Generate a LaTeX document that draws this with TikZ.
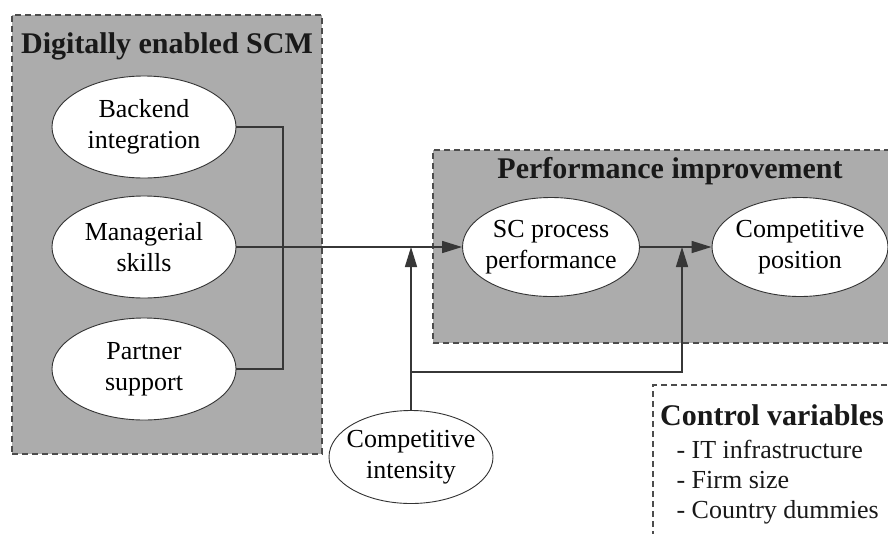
\documentclass[tikz,border=0pt]{standalone}
\usepackage{fontspec}
\setmainfont{Liberation Serif}
\usetikzlibrary{shapes.geometric,arrows.meta}
\definecolor{boxgray}{RGB}{172,172,172}
\definecolor{linec}{RGB}{55,55,55}
\begin{document}
\begin{tikzpicture}[x=1pt,y=-1pt,
  ell/.style={ellipse, draw=black!80, line width=0.9pt, fill=white, inner xsep=-10pt, inner ysep=-10pt, align=center, font=\fontsize{26}{31}\selectfont},
  grp/.style={draw=black!70, dash pattern=on 6pt off 4pt, line width=1.2pt, fill=boxgray, inner sep=0pt},
  ctrl/.style={draw=black!70, dash pattern=on 6pt off 4pt, line width=1.2pt, inner sep=0pt},
  conn/.style={draw=linec, line width=1.5pt},
  arr/.style={conn, -{Triangle[length=20pt,width=12pt]}},
  ttl/.style={font=\fontsize{30}{36}\selectfont\bfseries, anchor=base, text=black!90},
  body/.style={font=\fontsize{26}{31}\selectfont, anchor=base west, text=black!90}]
\clip (0,0) rectangle (888,533);
\fill[white] (0,0) rectangle (888,533);
% group boxes
\node[grp, minimum width=310pt, minimum height=439pt] (g1) at (167,234.5) {};
\node[grp, minimum width=472pt, minimum height=193pt] (g2) at (669,246.5) {};
\node[ctrl, minimum width=252pt, minimum height=160pt] (g3) at (779,465) {};
% titles
\node[ttl] (t1) at (167,53) {Digitally enabled SCM};
\node[ttl] (t2) at (670,178) {Performance improvement};
\node[ttl, anchor=base west, inner xsep=2pt] (t3) at (658,425) {Control variables};
\node[body] (c1) at (673,458) {- IT infrastructure};
\node[body] (c2) at (673,488) {- Firm size};
\node[body] (c3) at (673,518) {- Country dummies};
% ellipses
\node[ell, minimum width=184pt, minimum height=102pt] (be) at (144,127) {Backend\\integration};
\node[ell, minimum width=184pt, minimum height=102pt] (ms) at (144,247) {Managerial\\skills};
\node[ell, minimum width=184pt, minimum height=102pt] (ps) at (144,369) {Partner\\support};
\node[ell, minimum width=177pt, minimum height=99pt] (sc) at (551,247) {SC process\\performance};
\node[ell, minimum width=176pt, minimum height=99pt] (cp) at (800,247) {Competitive\\position};
\node[ell, minimum width=164pt, minimum height=93pt] (ci) at (411,457) {Competitive\\intensity};
% connectors
\coordinate (jn) at (283,247);
\draw[conn] (be.east) -| (jn);
\draw[conn] (ps.east) -| (jn);
\draw[arr] (ms.east) -- (sc.west);
\draw[arr] (sc.east) -- (cp.west);
\coordinate (m1) at (ci.north |- ms.east);
\coordinate (m2) at (682,247);
\coordinate (h1) at (ci.north |- 0,372);
\draw[arr] (ci.north) -- (m1);
\draw[arr] (h1) -| (m2);
\end{tikzpicture}
\end{document}
